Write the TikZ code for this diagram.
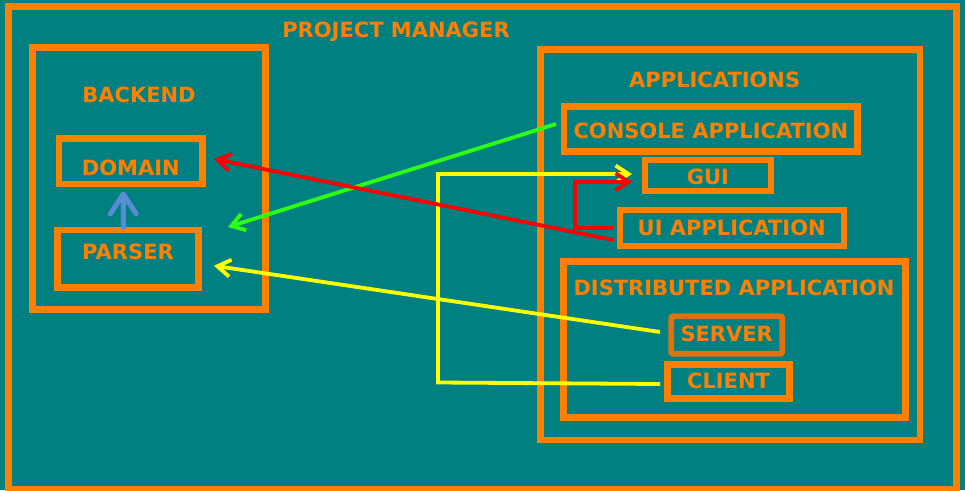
\documentclass[tikz,border=0pt]{standalone}
\usepackage{fontspec}
\setmainfont{DejaVu Sans}
\usetikzlibrary{arrows.meta,calc}

\definecolor{teal}{RGB}{0,128,128}
\definecolor{orng}{RGB}{255,128,0}
\definecolor{srvorng}{RGB}{226,112,14}
\definecolor{lime}{RGB}{45,255,20}
\definecolor{yel}{RGB}{255,255,0}
\definecolor{bluearr}{RGB}{88,140,212}

\tikzset{
  box/.style={draw=orng, line width=6.5pt, inner sep=0pt, outer sep=0pt,
    text=orng, text height=15.3pt, text depth=0pt, font=\fontsize{21}{25}\selectfont\bfseries},
  title/.style={text=orng, inner sep=0pt, text height=15.3pt, text depth=0pt,
    font=\fontsize{21}{25}\selectfont\bfseries},
  link/.style={line width=3.8pt, -{Straight Barb[length=13pt,width=17pt]}},
}

\begin{document}
\begin{tikzpicture}[x=1pt, y=-1pt]
    \fill[teal] (0,0) rectangle (965,490);
    \useasboundingbox (0,0) rectangle (965,490);

    % outer frame
    \node[box, line width=7pt, minimum width=948.5pt, minimum height=482.7pt] (frame) at (482.25,247.65) {};
    \node[title] (pmtitle) at (396,29.5) {PROJECT MANAGER};

    % backend side
    \node[box, minimum width=233pt, minimum height=262pt] (backend) at (149,178.5) {};
    \node[title] (betitle) at (139,94.5) {BACKEND};
    \node[box, minimum width=143.5pt, minimum height=45.5pt, text height=27.8pt, text depth=0pt] (domain) at (130.75,161.25) {DOMAIN};
    \node[box, minimum width=141pt, minimum height=57.5pt, text height=15.3pt, text depth=13.5pt] (parser) at (128,258.75) {PARSER};

    % applications side
    \node[box, minimum width=379.5pt, minimum height=390.5pt] (apps) at (730.25,244.75) {};
    \node[title] (apptitle) at (714.7,79.5) {APPLICATIONS};
    \node[box, minimum width=293.7pt, minimum height=44.6pt, text height=19.3pt] (console) at (710.85,129) {CONSOLE APPLICATION};
    \node[box, line width=6.3pt, minimum width=125.8pt, minimum height=31pt, text height=18.3pt] (gui) at (707.9,175.8) {GUI};
    \node[box, line width=6.3pt, minimum width=224pt, minimum height=36pt] (uiapp) at (731.7,227.7) {UI APPLICATION};
    \node[box, minimum width=342.4pt, minimum height=156pt] (distrib) at (734.5,339.7) {};
    \node[title] (disttitle) at (734,288) {DISTRIBUTED APPLICATION};
    \node[box, draw=srvorng, line width=5.7pt, rounded corners=2pt, minimum width=111pt, minimum height=37.6pt, text depth=3pt] (server) at (726.7,335) {SERVER};
    \node[box, minimum width=121.6pt, minimum height=34pt] (client) at (728.5,381.3) {CLIENT};

    % connectors
    \draw[bluearr, line width=5pt, line cap=round, line join=round, -{Straight Barb[length=20pt,width=26pt,round]}]
      ($(parser.north)+(-4.7,-3)$) -- ($(domain.south)+(-7.5,7.5)$);
    \draw[link, lime] ($(console.west)+(-8,-5)$) -- ($(parser.north east)+(29.5,-3)$);
    \draw[link, yel] ($(server.west)+(-11.2,-3)$) -- ($(parser.east)+(15.5,7)$);
    \draw[link, yel] ($(client.west)+(-7.7,2.7)$) -- (438,382.5) |- ($(gui.west)+(-13,-1.8)$);
    \draw[link, red] ($(uiapp.west)+(-6.7,12.3)$) -- ($(domain.east)+(11.5,-2.25)$);
    \draw[link, red] ($(uiapp.west)+(-6.7,0)$) -- ++(-38,0) |- ($(gui.west)+(-13,6)$);
\end{tikzpicture}
\end{document}
